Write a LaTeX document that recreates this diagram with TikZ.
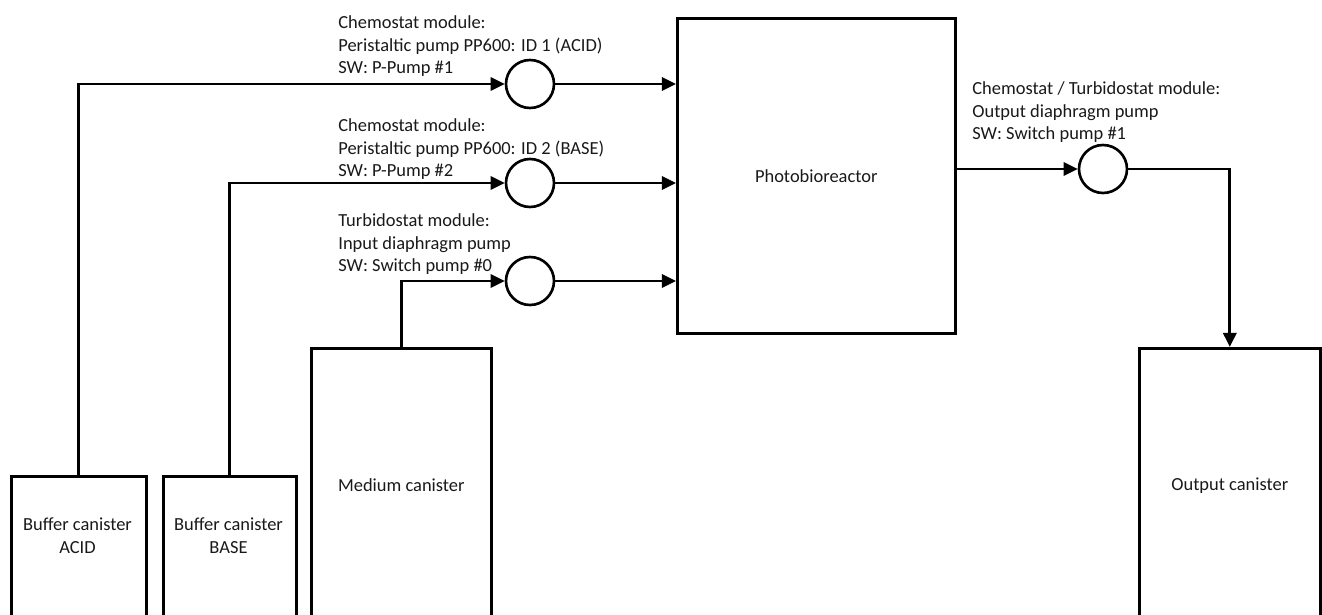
\documentclass[tikz,border=0pt]{standalone}
\usepackage{fontspec}
\setmainfont{Carlito}
\usetikzlibrary{arrows.meta}

\tikzset{
  flow/.style={line width=1.5pt, -{Triangle[length=8pt,width=7.5pt]}},
  tank/.style={draw, line width=1.5pt, rectangle, anchor=north west, inner sep=0pt},
  pump/.style={draw, line width=1.5pt, circle, minimum size=0.96cm, inner sep=0pt},
  note/.style={align=left, anchor=north west, inner sep=0pt}
}

\begin{document}
\begin{tikzpicture}[x=0.02cm, y=-0.02cm, font=\fontsize{10.5}{13}\selectfont, text=black!90]
\useasboundingbox (0,0) rectangle (1322,615);
\node[tank, minimum width=5.56cm, minimum height=6.3cm] (reactor) at (676,17) {Photobioreactor};
\node[tank, minimum width=2.7cm, minimum height=3.4cm] (acid) at (10,475) {};
\node[tank, minimum width=2.66cm, minimum height=3.4cm] (base) at (162,475) {};
\node[tank, minimum width=3.6cm, minimum height=5.48cm] (medium) at (310,347) {Medium canister};
\node[tank, minimum width=3.62cm, minimum height=5.48cm] (output) at (1138,347) {Output canister};
\node[align=center] (acidtxt) at (77.5,536) {Buffer canister\\ACID};
\node[align=center] (basetxt) at (228.5,536) {Buffer canister\\BASE};
\node[pump] (pacid) at (530,84) {};
\node[pump] (pbase) at (530,183) {};
\node[pump] (pmed) at (530,281) {};
\node[pump] (pout) at (1103,169) {};
\node[note] (lacid) at (338,15) {Chemostat module:\\Peristaltic pump PP600: ID 1 (ACID)\\SW: P-Pump \#1};
\node[note] (lbase) at (338,118) {Chemostat module:\\Peristaltic pump PP600: ID 2 (BASE)\\SW: P-Pump \#2};
\node[note] (lmed) at (338,213) {Turbidostat module:\\Input diaphragm pump\\SW: Switch pump \#0};
\node[note] (lout) at (972,81) {Chemostat / Turbidostat module:\\Output diaphragm pump\\SW: Switch pump \#1};
\draw[flow] (acid.north) |- (pacid.west);
\draw[flow] (base.north) |- (pbase.west);
\draw[flow] (medium.north) |- (pmed.west);
\draw[flow] (pacid.east) -- (pacid.east -| reactor.west);
\draw[flow] (pbase.east) -- (pbase.east -| reactor.west);
\draw[flow] (pmed.east) -- (pmed.east -| reactor.west);
\draw[flow] (reactor.east |- pout.west) -- (pout.west);
\draw[flow] (pout.east) -| (output.north);
\end{tikzpicture}
\end{document}
